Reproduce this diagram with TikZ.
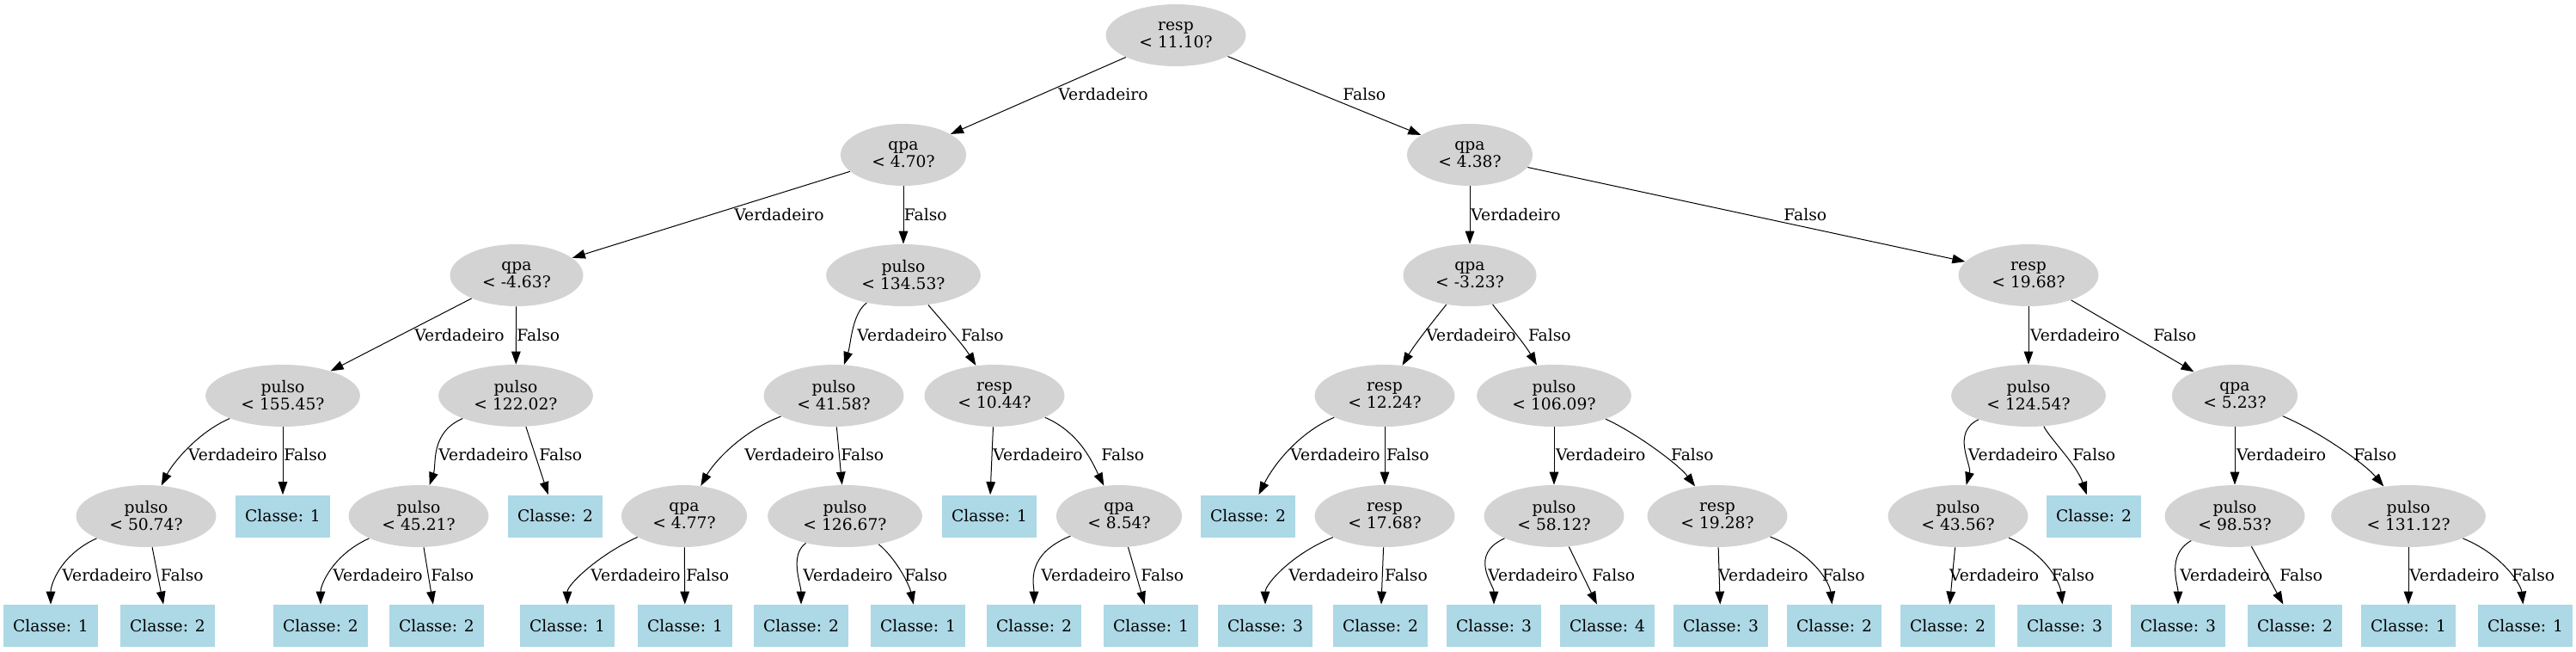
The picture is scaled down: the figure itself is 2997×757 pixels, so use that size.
\documentclass[tikz,border=0pt]{standalone}
\usepackage{fontspec}
\setmainfont{DejaVu Serif}
\usetikzlibrary{shapes.geometric,arrows.meta,calc}
\definecolor{nodegray}{HTML}{D3D3D3}
\definecolor{leafblue}{HTML}{ADD8E6}
\newcommand\dtfont{\fontsize{9.35pt}{10pt}\selectfont}
\newcommand\cedge[6]{\draw[edge] (#1) .. controls ($(#1)+(#3,#4)$) and ($(#2)+(#5,#6)$) .. (#2);}
\begin{document}
\begin{tikzpicture}[x=0.5pt,y=-0.5pt,
  dec/.style={ellipse, fill=nodegray, inner xsep=7.5pt, inner ysep=0pt, minimum height=36pt, align=center, font=\dtfont},
  leaf/.style={rectangle, fill=leafblue, minimum width=55pt, minimum height=24.5pt, inner sep=0pt, font=\dtfont},
  edge/.style={draw=black, line width=0.5pt, -{Triangle[length=7.5pt,width=5.3pt]}},
  elab/.style={anchor=base west, inner sep=0pt, font=\dtfont}]
\fill[white] (0,0) rectangle (2997,757);
\useasboundingbox (0,0) rectangle (2997,757);
% decision nodes
\node[dec] (n0) at (1368,41) {resp\\< 11.10?};
\node[dec] (n1) at (1051,180) {qpa\\< 4.70?};
\node[dec] (n2) at (1710,180) {qpa\\< 4.38?};
\node[dec] (n3) at (601,320) {qpa\\< -4.63?};
\node[dec] (n4) at (1051,320) {pulso\\< 134.53?};
\node[dec] (n5) at (1710,320) {qpa\\< -3.23?};
\node[dec] (n6) at (2360,320) {resp\\< 19.68?};
\node[dec] (n7) at (329,460) {pulso\\< 155.45?};
\node[dec] (n8) at (600,460) {pulso\\< 122.02?};
\node[dec] (n9) at (970,460) {pulso\\< 41.58?};
\node[dec] (n10) at (1157,460) {resp\\< 10.44?};
\node[dec] (n11) at (1611,460) {resp\\< 12.24?};
\node[dec] (n12) at (1808,460) {pulso\\< 106.09?};
\node[dec] (n13) at (2360,460) {pulso\\< 124.54?};
\node[dec] (n14) at (2600,460) {qpa\\< 5.23?};
\node[dec] (n15) at (170,600) {pulso\\< 50.74?};
\node[leaf] (k1) at (329,600) {Classe: 1};
\node[dec] (n16) at (487,600) {pulso\\< 45.21?};
\node[leaf] (k2) at (646,600) {Classe: 2};
\node[dec] (n17) at (796,600) {qpa\\< 4.77?};
\node[dec] (n18) at (983,600) {pulso\\< 126.67?};
\node[leaf] (k3) at (1151,600) {Classe: 1};
\node[dec] (n19) at (1302,600) {qpa\\< 8.54?};
\node[leaf] (k4) at (1452,600) {Classe: 2};
\node[dec] (n20) at (1611,600) {resp\\< 17.68?};
\node[dec] (n21) at (1808,600) {pulso\\< 58.12?};
\node[dec] (n22) at (1998,600) {resp\\< 19.28?};
\node[dec] (n23) at (2278,600) {pulso\\< 43.56?};
\node[leaf] (k5) at (2436,600) {Classe: 2};
\node[dec] (n24) at (2600,600) {pulso\\< 98.53?};
\node[dec] (n25) at (2802,600) {pulso\\< 131.12?};
% bottom leaves
\foreach \nm/\xx/\cl in {f1/59/1, f2/195/2, f3/373/2, f4/508/2, f5/660/1, f6/797/1, f7/932/2, f8/1068/1, f9/1203/2, f10/1339/1, f11/1472/3, f12/1606/2, f13/1738/3, f14/1870/4, f15/2002/3, f16/2134/2, f17/2266/2, f18/2402/3, f19/2534/3, f20/2670/2, f21/2802/1, f22/2938/1}
  \node[leaf] (\nm) at (\xx,727.5) {Classe: \cl};
% edges levels 0-2
\draw[edge] (n0) -- (n1);
\draw[edge] (n0) -- (n2);
\draw[edge] (n1) -- (n3);
\draw[edge] (n1) -- (n4);
\draw[edge] (n2) -- (n5);
\draw[edge] (n2) -- (n6);
% level 2-3
\draw[edge] (n3) -- (n7);
\draw[edge] (n3) -- (n8);
\cedge{n4}{n9}{-60}{45}{20}{-60}
\cedge{n4}{n10}{42}{50}{-37}{-60}
\cedge{n5}{n11}{-40}{50}{35}{-60}
\cedge{n5}{n12}{39}{50}{-34}{-60}
\draw[edge] (n6) -- (n13);
\draw[edge] (n6) -- (n14);
% level 3-4
\cedge{n7}{n15}{-100}{43}{30}{-60}
\draw[edge] (n7) -- (k1);
\cedge{n8}{n16}{-100}{43}{21}{-60}
\draw[edge] (n8) -- (k2);
\cedge{n9}{n17}{-110}{43}{33}{-60}
\draw[edge] (n9) -- (n18);
\draw[edge] (n10) -- (k3);
\cedge{n10}{n19}{100}{43}{-30}{-60}
\cedge{n11}{k4}{-100}{43}{30}{-60}
\draw[edge] (n11) -- (n20);
\draw[edge] (n12) -- (n21);
\cedge{n12}{n22}{95}{43}{-45}{-60}
\cedge{n13}{n23}{-90}{43}{16}{-60}
\cedge{n13}{k5}{25}{50}{-20}{-60}
\draw[edge] (n14) -- (n24);
\cedge{n14}{n25}{101}{43}{-50}{-60}
% level 4-5
\cedge{n15}{f1}{-100}{45}{0}{-47.5}
\draw[edge] (n15) -- (f2);
\cedge{n16}{f3}{-100}{45}{0}{-47.5}
\draw[edge] (n16) -- (f4);
\cedge{n17}{f5}{-100}{45}{0}{-47.5}
\draw[edge] (n17) -- (f6);
\cedge{n18}{f7}{-65}{45}{0}{-47.5}
\cedge{n18}{f8}{60}{50}{-10}{-47.5}
\cedge{n19}{f9}{-110}{45}{0}{-47.5}
\draw[edge] (n19) -- (f10);
\cedge{n20}{f11}{-110}{45}{0}{-47.5}
\draw[edge] (n20) -- (f12);
\cedge{n21}{f13}{-100}{45}{0}{-47.5}
\draw[edge] (n21) -- (f14);
\draw[edge] (n22) -- (f15);
\cedge{n22}{f16}{115}{45}{-5}{-47.5}
\draw[edge] (n23) -- (f17);
\cedge{n23}{f18}{105}{45}{-5}{-47.5}
\cedge{n24}{f19}{-80}{45}{0}{-47.5}
\draw[edge] (n24) -- (f20);
\draw[edge] (n25) -- (f21);
\cedge{n25}{f22}{110}{45}{-5}{-47.5}
% edge labels
\foreach \nm/\xx/\yy in {va/1231/116.7, vb/854/256.7, vc/1711/256.7, vd/482/396.7, ve/997/396.7, vf/1659/396.7, vg/2361.6/396.7,
  vh/218.6/535.7, vi/510/535.7, vj/866/535.7, vk/1155/535.7, vl/1501/535.7, vm/1809.7/535.7, vn/2289.5/535.7, vo/2601.6/535.7,
  vp/72/675, vq/387/675, vr/687/675, vs/934/675, vt/1211/675, vu/1499/675, vv/1731/675, vw/1999/675, vx/2267.6/675, vy/2536/675, vz/2803/675}
  \node[elab] (\nm) at (\xx,\yy) {Verdadeiro};
\foreach \nm/\xx/\yy in {fa/1562/116.7, fb/1051.5/256.7, fc/2075/256.7, fd/601/396.7, fe/1117.6/396.7, ff/1777.6/396.7, fg/2505/396.7,
  fh/330/535.7, fi/627/535.7, fj/978/535.7, fk/1281/535.7, fl/1612.6/535.7, fm/1943.6/535.7, fn/2411/535.7, fo/2738/535.7,
  fp/186.5/675, fq/501/675, fr/798/675, fs/1052/675, ft/1327/675, fu/1610.7/675, fv/1852/675, fw/2119.6/675, fx/2386.5/675, fy/2652/675, fz/2922/675}
  \node[elab] (\nm) at (\xx,\yy) {Falso};
\end{tikzpicture}
\end{document}
